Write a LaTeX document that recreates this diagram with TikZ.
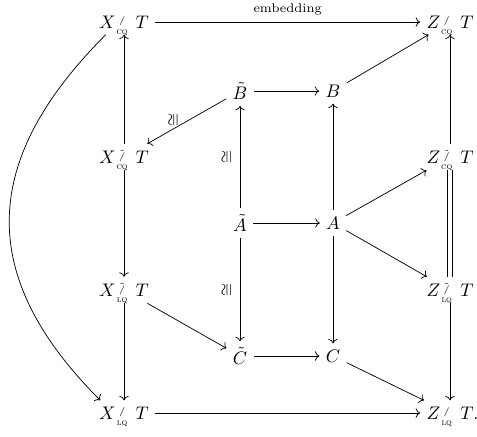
\documentclass[tikz,border=0pt]{standalone}
\usepackage{amsmath}
\usetikzlibrary{arrows.meta}
% slash with small tag underneath
\newcommand{\quo}[2]{\mkern1mu\text{\makebox[6pt]{\raisebox{-3.2pt}[0pt][0pt]{\tiny\textsc{#1}}}\kern-6pt\makebox[6pt]{\raisebox{2.5pt}{$\scriptscriptstyle #2$}}}\mkern8mu}
\newcommand{\qcq}{\quo{cq}{/}}
\newcommand{\qlq}{\quo{lq}{/}}
\newcommand{\tqcq}{\quo{cq}{\tilde{/}}}
\newcommand{\tqlq}{\quo{lq}{\tilde{/}}}

\begin{document}
\begin{tikzpicture}[x=0.55pt,y=-0.55pt,
    arr/.style={-{Computer Modern Rightarrow}},
    iso/.style={rotate=90,font=\small}]
  \useasboundingbox (0,0) rectangle (477,436);
  \node (xcq) at (124,22) {$X\qcq T$};
  \node (zcq) at (450,22) {$Z\qcq T$};
  \node (xtcq) at (124,157) {$X\tqcq T$};
  \node (ztcq) at (450,157) {$Z\tqcq T$};
  \node (xtlq) at (124,290) {$X\tqlq T$};
  \node (ztlq) at (450,290) {$Z\tqlq T$};
  \node (xlq) at (124,413) {$X\qlq T$};
  \node (zlq) at (450,413) {$Z\qlq T\rlap{.}$};
  \node (bt) at (240,91) {$\tilde{B}$};
  \node (b) at (333,91) {$B$};
  \node (at) at (240,223) {$\tilde{A}$};
  \node (a) at (333,223) {$A$};
  \node (ct) at (240,356) {$\tilde{C}$};
  \node (c) at (333,356) {$C$};
  \draw[arr] (xcq) -- node[above,font=\scriptsize] {embedding} (zcq);
  \foreach \s/\t in {xtcq/xcq,xtcq/xtlq,xtlq/xlq,xlq/zlq,ztcq/zcq,ztlq/zlq,
      bt/b,b/zcq,at/a,a/b,a/c,a/ztcq,a/ztlq,ct/c,c/zlq,xtlq/ct}
    {\draw[arr] (\s) -- (\t);}
  \draw[arr] (bt) -- node[xshift=-7pt,yshift=1pt,iso] {$\cong$} (xtcq);
  \draw[arr] (at) -- node[xshift=-7pt,iso] {$\cong$} (bt);
  \draw[arr] (at) -- node[xshift=-7pt,iso] {$\cong$} (ct);
  \draw[double distance=2pt] (ztcq) -- (ztlq);
  \draw[arr] ([xshift=-10pt]xcq.south) .. controls +(-125,125) and +(-125,-125) .. ([xshift=-13pt]xlq.north);
\end{tikzpicture}
\end{document}
